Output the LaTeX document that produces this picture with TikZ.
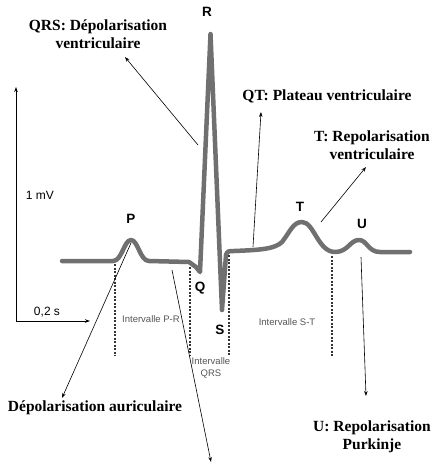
\documentclass[tikz,border=0pt]{standalone}
\usepackage{fontspec}
\setmainfont{Liberation Serif}
\newfontfamily\arialfont{Liberation Sans}
\usepackage{tikz}
\usetikzlibrary{arrows.meta}
\definecolor{ecggray}{RGB}{112,112,112}
\definecolor{intgray}{RGB}{85,85,85}
\tikzset{
ecgline/.style={draw=ecggray,line width=4.5pt,line join=round,line cap=round},
pointer/.style={draw=black,line width=0.6pt,-{Stealth[length=5pt,width=3.5pt]}},
axisarrow/.style={draw=black,line width=1pt,-{Stealth[length=5pt,width=3.5pt]}},
intervalline/.style={draw=black!80,line width=1.1pt,dash pattern=on 2pt off 1.5pt},
boldlabel/.style={font=\fontsize{15.5}{18}\selectfont\bfseries,align=center,inner sep=0pt},
wavelabel/.style={font=\arialfont\bfseries\fontsize{13.5}{14}\selectfont,inner sep=0pt},
scalelabel/.style={font=\arialfont\fontsize{12}{14}\selectfont,inner sep=0pt},
intlabel/.style={font=\arialfont\fontsize{9.5}{12}\selectfont,text=intgray,align=center,inner sep=0pt},
}
\begin{document}
\begin{tikzpicture}[x=1pt,y=-1pt]
\useasboundingbox (0,0) rectangle (435,466);

% axes
\coordinate (origin) at (16,321);
\coordinate (yend) at (16,87);
\coordinate (xend) at (90,321);
\draw[axisarrow] (origin) -- (yend);
\draw[axisarrow] (origin) -- (xend);
\node[scalelabel] at (40,195) (mv) {1 mV};
\node[scalelabel] at (47,312) (sec) {0,2 s};

% ECG trace
\draw[ecgline] (62,261) -- (113,261)
  .. controls (122,261) and (124,240) .. (131,240)
  .. controls (138,240) and (140,261) .. (149,261)
  -- (189,262) -- (196,267) -- (200,272)
  -- (210.5,34) -- (222,310) -- (226,255)
  .. controls (227,251) and (229,251) .. (234,251)
  .. controls (260,250) and (275,249) .. (282,242)
  .. controls (290,232) and (293,222) .. (302,222)
  .. controls (314,222) and (318,252) .. (335,252)
  .. controls (348,252) and (350,240) .. (359,240)
  .. controls (367,240) and (368,252) .. (380,252)
  -- (410,252);

% wave letters
\node[wavelabel] at (207,12) (r) {R};
\node[wavelabel] at (131,219) (p) {P};
\node[wavelabel] at (200,288) (q) {Q};
\node[wavelabel] at (220,330) (s) {S};
\node[wavelabel] at (300,207) (t) {T};
\node[wavelabel] at (362,224) (u) {U};

% interval markers
\coordinate (pr1top) at (115,264);
\coordinate (pr1bot) at (115,356);
\coordinate (pr2top) at (190,267);
\coordinate (pr2bot) at (190,356);
\coordinate (st1top) at (229,255);
\coordinate (st1bot) at (229,356);
\coordinate (st2top) at (332,256);
\coordinate (st2bot) at (332,356);
\draw[intervalline] (pr1top) -- (pr1bot);
\draw[intervalline] (pr2top) -- (pr2bot);
\draw[intervalline] (st1top) -- (st1bot);
\draw[intervalline] (st2top) -- (st2bot);
\node[intlabel] at (151,319) (intpr) {Intervalle P-R};
\node[intlabel] at (287,322) (intst) {Intervalle S-T};
\node[intlabel] at (211,368) (intqrs) {Intervalle\\QRS};

% labels
\node[boldlabel] at (98,34) (qrslab) {QRS: Dépolarisation\\ventriculaire};
\node[boldlabel] at (327,96) (qtlab) {QT: Plateau ventriculaire};
\node[boldlabel] at (372,145) (tlab) {T: Repolarisation\\ventriculaire};
\node[boldlabel] at (95,408) (plab) {Dépolarisation auriculaire};
\node[boldlabel] at (372,437) (ulab) {U: Repolarisation\\Purkinje};

% pointers
\coordinate (qrsfrom) at (198,145);
\coordinate (qrsto) at (125,57);
\coordinate (qtfrom) at (253,247);
\coordinate (qtto) at (261,112);
\coordinate (tfrom) at (321,222);
\coordinate (tto) at (366,167);
\coordinate (pfrom) at (131,243);
\coordinate (pto) at (62,398);
\coordinate (qrsdfrom) at (172,270);
\coordinate (qrsdto) at (211,462);
\coordinate (ufrom) at (361,257);
\coordinate (uto) at (366,396);
\draw[pointer] (qrsfrom) -- (qrsto);
\draw[pointer] (qtfrom) -- (qtto);
\draw[pointer] (tfrom) -- (tto);
\draw[pointer] (pfrom) -- (pto);
\draw[pointer] (qrsdfrom) -- (qrsdto);
\draw[pointer] (ufrom) -- (uto);
\end{tikzpicture}
\end{document}
